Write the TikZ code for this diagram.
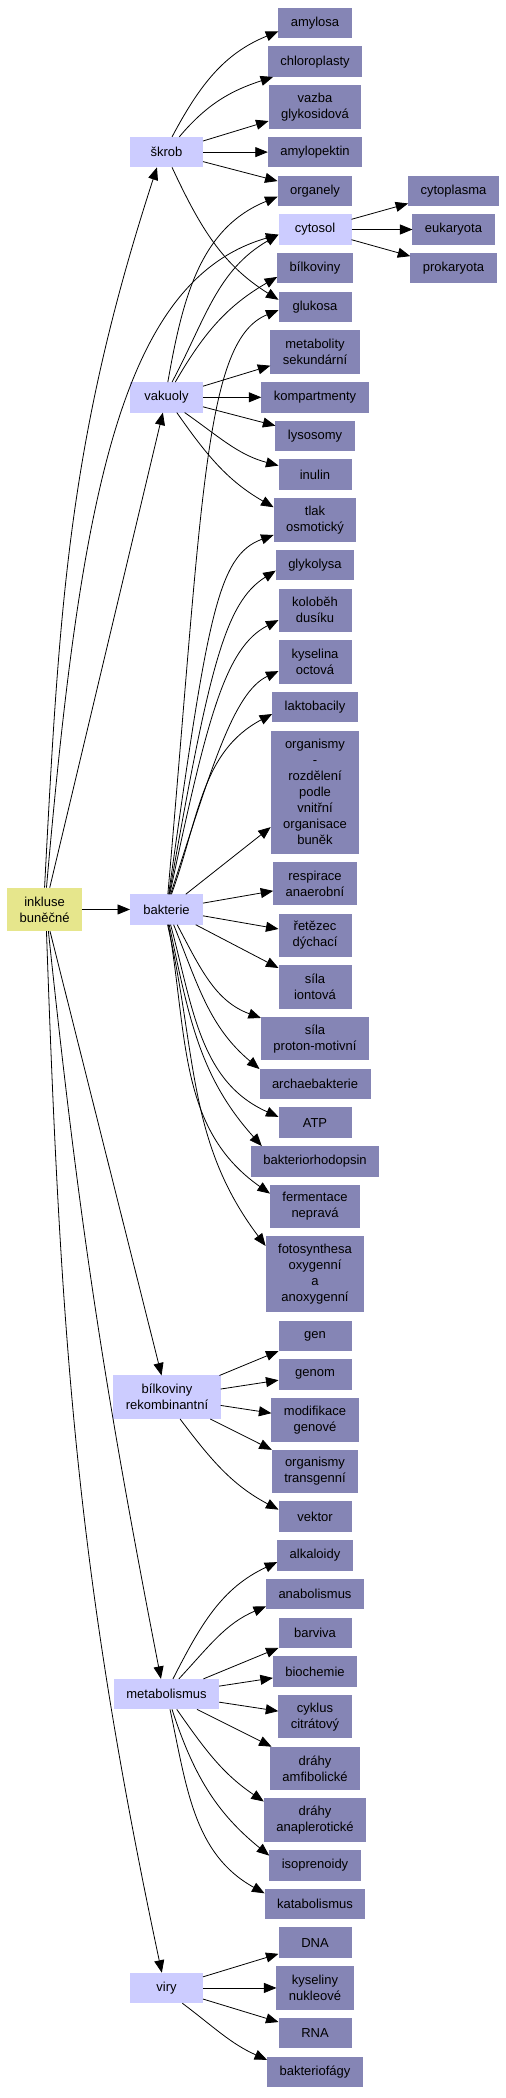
\documentclass[tikz,border=0pt]{standalone}
\usepackage{fontspec}
\setmainfont{Liberation Sans}
\usetikzlibrary{arrows.meta,positioning,calc}
\definecolor{rootY}{RGB}{230,230,140}
\definecolor{midL}{RGB}{204,204,255}
\definecolor{leafD}{RGB}{133,133,181}

\begin{document}
\begin{tikzpicture}[x=1bp,y=1bp,node distance=8.2bp,
    >={Triangle[length=12.5bp,width=10bp]},line width=0.8bp]
  \tikzstyle{nodeBase}=[rectangle,inner xsep=12.5bp,inner ysep=0pt,outer sep=0pt,minimum width=73bp,minimum height=30.5bp,align=center,font=\fontsize{13bp}{16bp}\selectfont]
  \tikzstyle{nodeY}=[nodeBase,fill=rootY]
  \tikzstyle{nodeL}=[nodeBase,fill=midL]
  \tikzstyle{nodeD}=[nodeBase,fill=leafD]
  \tikzstyle{two}=[minimum height=43.5bp]

  \useasboundingbox (0,0) rectangle (506,-2098);

  % leaf column
  \node[nodeD]     (amylosa)     at (315,-23) {amylosa};
  \node[nodeD]     (chloro)      [below=of amylosa] {chloroplasty};
  \node[nodeD,two] (vazba)       [below=of chloro] {vazba\\glykosidová};
  \node[nodeD]     (amylopektin) [below=of vazba] {amylopektin};
  \node[nodeD]     (organely)    [below=of amylopektin] {organely};
  \node[nodeL]     (cytosol)     [below=of organely] {cytosol};
  \node[nodeD]     (bilkoviny)   [below=of cytosol] {bílkoviny};
  \node[nodeD]     (glukosa)     [below=of bilkoviny] {glukosa};
  \node[nodeD,two] (metsek)      [below=of glukosa] {metabolity\\sekundární};
  \node[nodeD]     (kompart)     [below=of metsek] {kompartmenty};
  \node[nodeD]     (lysosomy)    [below=of kompart] {lysosomy};
  \node[nodeD]     (inulin)      [below=of lysosomy] {inulin};
  \node[nodeD,two] (tlak)        [below=of inulin] {tlak\\osmotický};
  \node[nodeD]     (glykolysa)   [below=of tlak] {glykolysa};
  \node[nodeD,two] (kolobeh)     [below=of glykolysa] {koloběh\\dusíku};
  \node[nodeD,two] (kyselina)    [below=of kolobeh] {kyselina\\octová};
  \node[nodeD]     (laktob)      [below=of kyselina] {laktobacily};
  \node[nodeD,minimum height=123bp] (orgbunek) [below=of laktob] {organismy\\-\\rozdělení\\podle\\vnitřní\\organisace\\buněk};
  \node[nodeD,two] (respirace)   [below=of orgbunek] {respirace\\anaerobní};
  \node[nodeD,two] (retezec)     [below=of respirace] {řetězec\\dýchací};
  \node[nodeD,two] (silaion)     [below=of retezec] {síla\\iontová};
  \node[nodeD,two] (silaprot)    [below=of silaion] {síla\\proton-motivní};
  \node[nodeD]     (archae)      [below=of silaprot] {archaebakterie};
  \node[nodeD]     (atp)         [below=of archae] {ATP};
  \node[nodeD]     (bakrhod)     [below=of atp] {bakteriorhodopsin};
  \node[nodeD,two] (ferment)     [below=of bakrhod] {fermentace\\nepravá};
  \node[nodeD,minimum height=76bp] (fotosyn) [below=of ferment] {fotosynthesa\\oxygenní\\a\\anoxygenní};
  \node[nodeD]     (gen)         [below=of fotosyn] {gen};
  \node[nodeD]     (genom)       [below=of gen] {genom};
  \node[nodeD,two] (modif)       [below=of genom] {modifikace\\genové};
  \node[nodeD,two] (orgtrans)    [below=of modif] {organismy\\transgenní};
  \node[nodeD]     (vektor)      [below=of orgtrans] {vektor};
  \node[nodeD]     (alkaloidy)   [below=of vektor] {alkaloidy};
  \node[nodeD]     (anabol)      [below=of alkaloidy] {anabolismus};
  \node[nodeD]     (barviva)     [below=of anabol] {barviva};
  \node[nodeD]     (biochemie)   [below=of barviva] {biochemie};
  \node[nodeD,two] (cyklus)      [below=of biochemie] {cyklus\\citrátový};
  \node[nodeD,two] (drahyamf)    [below=of cyklus] {dráhy\\amfibolické};
  \node[nodeD,two] (drahyana)    [below=of drahyamf] {dráhy\\anaplerotické};
  \node[nodeD]     (isopren)     [below=of drahyana] {isoprenoidy};
  \node[nodeD]     (katabol)     [below=of isopren] {katabolismus};
  \node[nodeD]     (dna)         [below=of katabol] {DNA};
  \node[nodeD,two] (kysnuk)      [below=of dna] {kyseliny\\nukleové};
  \node[nodeD]     (rna)         [below=of kysnuk] {RNA};
  \node[nodeD]     (bakfag)      [below=of rna] {bakteriofágy};

  % cytosol children
  \node[nodeD] (cytoplasma) at ([xshift=138.5bp]organely) {cytoplasma};
  \node[nodeD] (eukaryota)  at ([xshift=138.5bp]cytosol) {eukaryota};
  \node[nodeD] (prokaryota) at ([xshift=138.5bp]bilkoviny) {prokaryota};

  % middle column
  \node[nodeL]     (skrob)    at ([xshift=-148.5bp]amylopektin) {škrob};
  \node[nodeL]     (vakuoly)  at ([xshift=-148.5bp]kompart) {vakuoly};
  \node[nodeL]     (bakterie) at ($(respirace)!0.5!(retezec)+(-148.5,0)$) {bakterie};
  \node[nodeL,two] (bilkrek)  at ($(genom)!0.5!(modif)+(-148,0)$) {bílkoviny\\rekombinantní};
  \node[nodeL]     (metab)    at ($(biochemie)!0.5!(cyklus)+(-148.5,0)$) {metabolismus};
  \node[nodeL]     (viry)     at ([xshift=-148.5bp]kysnuk) {viry};

  % root
  \node[nodeY,two] (incl) [left=48bp of bakterie] {inkluse\\buněčné};

  \path[->] (incl) edge (vakuoly) edge (bakterie) edge (bilkrek);
  % long curves from the root
  \draw[->] (incl.north) .. controls +(87:286bp) and +(252:286bp) .. (skrob.238);
  \draw[->] (incl.85) .. controls +(85:390bp) and +(196:165bp) .. (cytosol.188);
  \draw[->] (incl.-80) .. controls +(-84:296bp) and +(101:296bp) .. (metab.110);
  \draw[->] (incl.-85) .. controls +(-88:410bp) and +(102:410bp) .. (viry.107);

  \path[->] (skrob.70) edge[out=62,in=202] (amylosa.193)
            (skrob.50) edge[out=50,in=198] (chloro.200)
            (skrob) edge (vazba) edge (amylopektin) edge (organely)
            (skrob.-70) edge[out=-65,in=148] (glukosa.169);

  \path[->] (vakuoly.85) edge[out=80,in=202] (organely.189)
            (vakuoly.70) edge[out=62,in=210] (cytosol.188)
            (vakuoly.60) edge[out=60,in=210] (bilkoviny.193)
            (vakuoly) edge (metsek) edge (kompart) edge (lysosomy)
            (vakuoly.-40) edge[out=-35,in=165] (inulin.166)
            (vakuoly.-56) edge[out=-55,in=150] (tlak.163);

  \path[->] (cytosol) edge (cytoplasma) edge (eukaryota) edge (prokaryota);

  \path[->] (bakterie.85) edge[out=85,in=202,out distance=400bp,in distance=80bp] (glukosa.185)
            (bakterie.82) edge[out=82,in=200,out distance=280bp,in distance=60bp] (tlak.200)
            (bakterie.80) edge[out=80,in=212,out distance=230bp,in distance=60bp] (glykolysa.188)
            (bakterie.78) edge[out=78,in=207,out distance=180bp,in distance=60bp] (kolobeh.195)
            (bakterie.75) edge[out=72,in=205,out distance=130bp,in distance=50bp] (kyselina.194)
            (bakterie.72) edge[out=70,in=208] (laktob.189)
            (bakterie) edge (orgbunek) edge (respirace) edge (retezec) edge (silaion)
            (bakterie.-55) edge[out=-62,in=160] (silaprot.159)
            (bakterie.-65) edge[out=-68,in=140] (archae.165)
            (bakterie.-75) edge[out=-75,in=156] (atp.171)
            (bakterie.-80) edge[out=-78,in=132] (bakrhod.164)
            (bakterie.-83) edge[out=-80,in=145] (ferment.164)
            (bakterie.-86) edge[out=-77,in=127] (fotosyn.150);

  \path[->] (bilkrek) edge (gen) edge (genom) edge (modif) edge (orgtrans)
            (bilkrek.-59) edge[out=-53,in=152] (vektor.169);

  \path[->] (metab.67) edge[out=63,in=205] (alkaloidy.190)
            (metab.51) edge[out=47,in=203] (anabol.194)
            (metab) edge (barviva) edge (biochemie) edge (cyklus) edge (drahyamf)
            (metab.-56) edge[out=-55,in=146] (drahyana.160)
            (metab.-70) edge[out=-72,in=141] (isopren.168)
            (metab.-77) edge[out=-78,in=151] (katabol.168);

  \path[->] (viry) edge (dna) edge (kysnuk) edge (rna)
            (viry.-44) edge[out=-37,in=156] (bakfag.166);
\end{tikzpicture}
\end{document}
